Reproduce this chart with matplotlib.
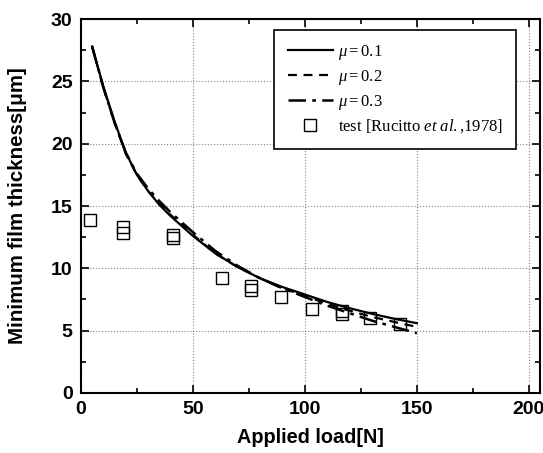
import matplotlib
matplotlib.use("Agg")
import matplotlib.pyplot as plt
from matplotlib.ticker import MultipleLocator

plt.rcParams['mathtext.fontset'] = 'custom'
plt.rcParams['mathtext.rm'] = 'Liberation Serif'
plt.rcParams['mathtext.it'] = 'Liberation Serif:italic'

# ---- data ----
load = [5, 10, 15, 20, 25, 30, 35, 40, 45, 50, 60, 70, 80, 90, 100, 110, 120, 130, 140, 150]
h_mu01 = [27.8, 24.6, 21.8, 19.3, 17.5, 16.2, 15.1, 14.2, 13.4, 12.6, 11.2, 10.1, 9.2, 8.5, 7.9, 7.3, 6.8, 6.35, 5.95, 5.6]
h_mu02 = [27.8, 24.5, 21.7, 19.2, 17.5, 16.2, 15.2, 14.3, 13.5, 12.7, 11.2, 10.1, 9.2, 8.4, 7.8, 7.15, 6.6, 6.1, 5.7, 5.3]
h_mu03 = [27.8, 24.5, 21.7, 19.3, 17.6, 16.4, 15.4, 14.5, 13.7, 12.9, 11.4, 10.2, 9.2, 8.4, 7.7, 7.0, 6.4, 5.8, 5.3, 4.8]

test_load = [4.0, 19, 19, 41, 41, 63, 76, 76, 89.5, 103, 116.6, 116.6, 129.3, 142.7]
test_h = [13.9, 13.3, 12.8, 12.7, 12.4, 9.25, 8.6, 8.3, 7.7, 6.7, 6.6, 6.3, 6.05, 5.5]

xticks = [0, 50, 100, 150, 200]
yticks = [0, 5, 10, 15, 20, 25, 30]

fig = plt.figure(figsize=(5.43, 4.53), dpi=100)
ax = fig.add_axes([0.149, 0.1325, 0.8455, 0.8255])

ax.plot(load, h_mu01, color='black', lw=1.6, ls='-', label=r'$\mu = 0.1$')
ax.plot(load, h_mu02, color='black', lw=1.6, ls=(0, (4, 3)), label=r'$\mu = 0.2$')
ax.plot(load, h_mu03, color='black', lw=1.8, ls=(0, (7, 2.5, 1.5, 2.5)), label=r'$\mu = 0.3$')
ax.plot(test_load, test_h, ls='none', marker='s', ms=9, mfc='none', mec='black', mew=1.0,
        label=r'test [Rucitto $et\ al.$,1978]')

ax.set_xlim(0, 205)
ax.set_ylim(0, 30)
ax.set_xticks(xticks)
ax.set_yticks(yticks)
ax.xaxis.set_minor_locator(MultipleLocator(25))
ax.yaxis.set_minor_locator(MultipleLocator(2.5))
ax.tick_params(which='both', direction='in', top=True, right=True, width=1.2)
ax.tick_params(which='major', length=6)
ax.tick_params(which='minor', length=3.5)
ax.tick_params(axis='y', pad=6)
ax.tick_params(axis='x', pad=6)
for lab in ax.get_xticklabels() + ax.get_yticklabels():
    lab.set_fontfamily('Liberation Sans')
    lab.set_fontweight('bold')
    lab.set_fontsize(14)
for s in ax.spines.values():
    s.set_linewidth(1.5)

ax.grid(True, which='major', ls=':', color='#888888', lw=0.8)

ax.set_xlabel('Applied load[N]', fontfamily='Liberation Sans', fontweight='bold', fontsize=14.3)
ax.set_ylabel('Minimum film thickness[μm]', fontfamily='Liberation Sans', fontweight='bold', fontsize=14.8)
ax.xaxis.set_label_coords(0.5, -0.118)
ax.xaxis.label.set_va('center')
ax.yaxis.set_label_coords(-0.139, 0.5)
ax.yaxis.label.set_va('center')

leg = ax.legend(loc='upper right', bbox_to_anchor=(0.948, 0.971), borderaxespad=0,
                prop={'family': 'Liberation Serif', 'size': 12}, fancybox=False,
                edgecolor='black', framealpha=1, handlelength=2.7, labelspacing=0.35,
                borderpad=0.8, handletextpad=0.3)
leg.get_frame().set_linewidth(1.2)

fig.savefig('out.png', dpi=100)
